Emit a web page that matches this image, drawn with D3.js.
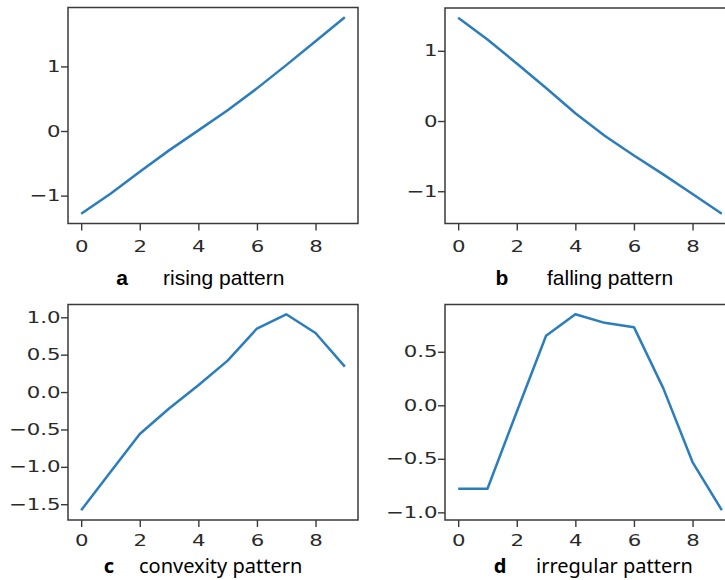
<!DOCTYPE html>
<html>
<head>
<meta charset="utf-8">
<script src="https://cdn.jsdelivr.net/npm/d3@7"></script>
<style>
  html, body { margin: 0; padding: 0; background: #fff; }
  svg { display: block; }
</style>
</head>
<body>
<svg id="chart" width="725" height="580"></svg>
<script>
// Time steps shared by all four series
const steps = [0, 1, 2, 3, 4, 5, 6, 7, 8, 9];

// Series values
const rising    = [-1.28, -0.97, -0.63, -0.30, 0.01, 0.32, 0.66, 1.02, 1.39, 1.76];
const falling   = [1.47, 1.16, 0.82, 0.47, 0.11, -0.21, -0.49, -0.76, -1.04, -1.32];
const convexity = [-1.58, -1.07, -0.56, -0.22, 0.09, 0.42, 0.85, 1.04, 0.79, 0.34];
const irregular = [-0.78, -0.78, -0.06, 0.65, 0.85, 0.77, 0.73, 0.16, -0.53, -0.98];

// Tick values
const xTickValues = [0, 2, 4, 6, 8];
const yTicksRising    = [-1, 0, 1];
const yTicksFalling   = [-1, 0, 1];
const yTicksConvexity = [-1.5, -1.0, -0.5, 0.0, 0.5, 1.0];
const yTicksIrregular = [-1.0, -0.5, 0.0, 0.5];

// Caption texts
const panelLetters = ["a", "b", "c", "d"];
const panelTitles  = ["rising pattern", "falling pattern", "convexity pattern", "irregular pattern"];

const svg = d3.select("#chart");

const PLOT_W = 290;
const TICK = 7;
const STRETCH = 1.33;           // horizontal stretch of tick lettering
const TICK_FONT = 16;
const LINE_COLOR = "#2b7dbc";
const AXIS_COLOR = "#3a3a3a";
const LABEL_COLOR = "#2a2a2a";

const panels = [
  { values: rising,    yTicks: yTicksRising,    fmt: d3.format("d"),   left: 68,  top: 7.5,   bottom: 223.5, xLabelBase: 29,
    capFont: "'Liberation Sans', Arial, sans-serif", capSize: 21, capBase: 285, letterX: 122, titleX: 163 },
  { values: falling,   yTicks: yTicksFalling,   fmt: d3.format("d"),   left: 445, top: 8,     bottom: 223.5, xLabelBase: 29,
    capFont: "'Liberation Sans', Arial, sans-serif", capSize: 21, capBase: 285, letterX: 502, titleX: 547 },
  { values: convexity, yTicks: yTicksConvexity, fmt: d3.format(".1f"), left: 68,  top: 304.5, bottom: 520,   xLabelBase: 26.5,
    capFont: "'Noto Sans', 'Open Sans', sans-serif", capSize: 20, capBase: 573, letterX: 109, titleX: 139 },
  { values: irregular, yTicks: yTicksIrregular, fmt: d3.format(".1f"), left: 445, top: 304.5, bottom: 520,   xLabelBase: 26.5,
    capFont: "'Noto Sans', 'Open Sans', sans-serif", capSize: 20, capBase: 573, letterX: 500, titleX: 536 }
];

panels.forEach((p, i) => {
  const g = svg.append("g");

  // matplotlib-style 5% margins around the data extent
  const xExt = d3.extent(steps);
  const xPad = (xExt[1] - xExt[0]) * 0.05;
  const x = d3.scaleLinear()
    .domain([xExt[0] - xPad, xExt[1] + xPad])
    .range([p.left, p.left + PLOT_W]);

  const yExt = d3.extent(p.values);
  const yPad = (yExt[1] - yExt[0]) * 0.05;
  const y = d3.scaleLinear()
    .domain([yExt[0] - yPad, yExt[1] + yPad])
    .range([p.bottom, p.top]);

  // x axis
  const xAxis = g.append("g")
    .attr("transform", `translate(0,${p.bottom})`)
    .call(d3.axisBottom(x).tickValues(xTickValues).tickSize(TICK).tickSizeOuter(0).tickFormat(d3.format("d")));
  xAxis.select(".domain").remove();
  xAxis.selectAll(".tick line").attr("stroke", AXIS_COLOR).attr("stroke-width", 1.4);
  xAxis.selectAll(".tick text")
    .attr("y", p.xLabelBase).attr("dy", null)
    .attr("transform", `scale(${STRETCH},1)`)
    .attr("fill", LABEL_COLOR)
    .style("font-family", "'DejaVu Sans', sans-serif")
    .style("font-size", TICK_FONT + "px");

  // y axis
  const yAxis = g.append("g")
    .attr("transform", `translate(${p.left},0)`)
    .call(d3.axisLeft(y).tickValues(p.yTicks).tickSize(TICK).tickSizeOuter(0).tickFormat(p.fmt));
  yAxis.select(".domain").remove();
  yAxis.selectAll(".tick line").attr("stroke", AXIS_COLOR).attr("stroke-width", 1.4);
  yAxis.selectAll(".tick text")
    .attr("x", -(TICK + 0.5) / STRETCH)
    .attr("transform", `scale(${STRETCH},1)`)
    .attr("fill", LABEL_COLOR)
    .style("font-family", "'DejaVu Sans', sans-serif")
    .style("font-size", TICK_FONT + "px");

  // series line
  const line = d3.line()
    .x((d, k) => x(steps[k]))
    .y(d => y(d));
  g.append("path")
    .datum(p.values)
    .attr("d", line)
    .attr("fill", "none")
    .attr("stroke", LINE_COLOR)
    .attr("stroke-width", 2.5)
    .attr("stroke-linejoin", "round");

  // frame
  g.append("rect")
    .attr("x", p.left).attr("y", p.top)
    .attr("width", PLOT_W).attr("height", p.bottom - p.top)
    .attr("fill", "none")
    .attr("stroke", AXIS_COLOR)
    .attr("stroke-width", 1.5);

  // caption
  g.append("text")
    .attr("x", p.letterX).attr("y", p.capBase)
    .attr("text-anchor", "middle")
    .style("font-family", p.capFont)
    .style("font-size", p.capSize + "px")
    .style("font-weight", "bold")
    .attr("fill", "#000")
    .text(panelLetters[i]);
  g.append("text")
    .attr("x", p.titleX).attr("y", p.capBase)
    .style("font-family", p.capFont)
    .style("font-size", p.capSize + "px")
    .attr("fill", "#000")
    .text(panelTitles[i]);
});
</script>
</body>
</html>
